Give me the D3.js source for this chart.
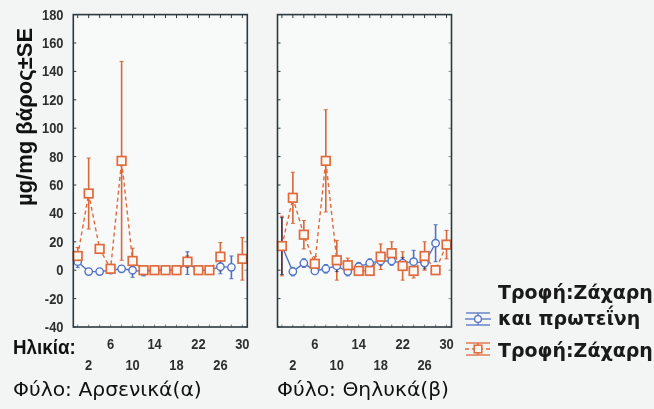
<!DOCTYPE html>
<html>
<head>
<meta charset="utf-8">
<script src="https://cdn.jsdelivr.net/npm/d3@7/dist/d3.min.js"></script>
<style>
  html, body { margin: 0; padding: 0; background: #f3f4f4; }
  svg { display: block; }
</style>
</head>
<body>
<svg id="chart" width="654" height="409"></svg>
<script>
// Age (days) categories shared by both panels
const ages = [0, 2, 4, 6, 8, 10, 12, 14, 16, 18, 20, 22, 24, 26, 28, 30];
const ageTicks = [2, 6, 10, 14, 18, 22, 26, 30];
const yTicks = [-40, -20, 0, 20, 40, 60, 80, 100, 120, 140, 160, 180];

// Males – diet: sugar and protein (mean, SE)
const maleSP = [6, -1, -1, 0, 1, 0, -1, 0, 0, 0, 5, 0, 0, 2.5, 2, null];
const maleSPse = [4, 2, 2, 2, 2, 5, 3, 2, 2, 2, 8, 2, 2, 5, 8, null];
// Males – diet: sugar
const maleS = [10, 54, 15, 1, 77, 6.5, 0, 0, 0, 0, 6, 0, 0, 9.5, null, 8];
const maleSse = [6, 25, 3, 2, 70, 9, 1, 1, 1, 1, 4, 1, 1, 10, null, 15];
// Females – diet: sugar and protein
const femaleSP = [17, -1, 5, -0.5, 1, 3, -1, 2.5, 5, 6.5, 6.5, 5, 6, 5, 19, null];
const femaleSPse = [20, 3, 3, 2, 3, 4, 3, 3, 3, 3, 3, 4, 8, 4, 13, null];
// Females – diet: sugar
const femaleS = [17, 51, 25, 4.5, 77, 7, 3.5, -0.5, -0.5, 9.5, 12, 3, -0.5, 10, 0, 18];
const femaleSse = [21, 18, 10, 5, 36, 14, 5, 2, 2, 9, 8, 10, 5, 10, 3, 10];

const panelTitles = ["Φύλο: Αρσενικά(α)", "Φύλο: Θηλυκά(β)"];
const legendLabels = [["Τροφή:Ζάχαρη", "και πρωτεΐνη"], ["Τροφή:Ζάχαρη"]];
const yTitle = "µg/mg βάρος±SE";
const xTitle = "Ηλικία:";

const BLUE = "#5373c6", ORANGE = "#df6a3c", FRAME = "#2c393e";
const sans = "'Liberation Sans', Arial, sans-serif";
const wide = "'DejaVu Sans', Verdana, sans-serif";
const NARROW = 0.86; // horizontal squeeze for the condensed axis lettering

const svg = d3.select("#chart");
const panelW = 174, yTop = 14.6, yBottom = 327;
const panelX = [73.3, 277.5];

const y = d3.scaleLinear().domain([-40, 180]).range([yBottom, yTop]);

const panels = [
  { sp: maleSP, spse: maleSPse, s: maleS, sse: maleSse },
  { sp: femaleSP, spse: femaleSPse, s: femaleS, sse: femaleSse }
];

panels.forEach((p, pi) => {
  const x0 = panelX[pi];
  const x = d3.scaleLinear().domain([-0.8, 30.9]).range([x0, x0 + panelW]);
  const g = svg.append("g");

  // plot area
  g.append("rect").attr("x", x0).attr("y", yTop).attr("width", panelW)
    .attr("height", yBottom - yTop).attr("fill", "#f8f9f9");

  // inner tick marks along the frame
  const tickAges = d3.range(0, 31, 2);
  g.selectAll(".tt").data(tickAges).join("line")
    .attr("x1", d => x(d)).attr("x2", d => x(d))
    .attr("y1", yTop).attr("y2", yTop + 3.5)
    .attr("stroke", FRAME).attr("stroke-width", 1);
  g.selectAll(".tb").data(tickAges).join("line")
    .attr("x1", d => x(d)).attr("x2", d => x(d))
    .attr("y1", yBottom).attr("y2", yBottom - 2.5)
    .attr("stroke", "#7c868a").attr("stroke-width", 1);
  g.selectAll(".tl").data(yTicks).join("line")
    .attr("x1", x0).attr("x2", x0 + 3)
    .attr("y1", d => y(d)).attr("y2", d => y(d))
    .attr("stroke", FRAME).attr("stroke-width", 1);
  g.selectAll(".tr").data(yTicks).join("line")
    .attr("x1", x0 + panelW).attr("x2", x0 + panelW - 3)
    .attr("y1", d => y(d)).attr("y2", d => y(d))
    .attr("stroke", "#8a9397").attr("stroke-width", 1);

  const series = [
    { v: p.sp, se: p.spse, color: BLUE, dash: null, marker: "circle" },
    { v: p.s, se: p.sse, color: ORANGE, dash: "4,3", marker: "square" }
  ];
  const pts = s => ages.map((a, i) => ({ a, v: s.v[i], se: s.se[i] })).filter(d => d.v !== null);

  // error bars
  series.forEach(s => {
    const eb = g.append("g").attr("stroke", s.color).attr("stroke-width", 1.6)
      .style("mix-blend-mode", "multiply");
    const d = pts(s);
    eb.selectAll("line.v").data(d).join("line")
      .attr("x1", d => x(d.a)).attr("x2", d => x(d.a))
      .attr("y1", d => y(d.v + d.se)).attr("y2", d => y(d.v - d.se));
    eb.selectAll("line.c1").data(d).join("line")
      .attr("x1", d => x(d.a) - 2).attr("x2", d => x(d.a) + 2)
      .attr("y1", d => y(d.v + d.se)).attr("y2", d => y(d.v + d.se)).attr("stroke-width", 1);
    eb.selectAll("line.c2").data(d).join("line")
      .attr("x1", d => x(d.a) - 2).attr("x2", d => x(d.a) + 2)
      .attr("y1", d => y(d.v - d.se)).attr("y2", d => y(d.v - d.se)).attr("stroke-width", 1);
  });

  // connecting lines
  series.forEach(s => {
    const line = d3.line().defined(d => d.v !== null).x(d => x(d.a)).y(d => y(d.v));
    g.append("path")
      .datum(ages.map((a, i) => ({ a, v: s.v[i] })))
      .attr("d", line).attr("fill", "none")
      .attr("stroke", s.color).attr("stroke-width", 1.4)
      .attr("stroke-dasharray", s.dash);
  });

  // markers
  series.forEach(s => {
    const d = pts(s);
    if (s.marker === "circle") {
      g.selectAll(null).data(d).join("circle")
        .attr("cx", d => x(d.a)).attr("cy", d => y(d.v)).attr("r", 3.7)
        .attr("fill", "#fbfcff").attr("stroke", s.color).attr("stroke-width", 1.4);
    } else {
      g.selectAll(null).data(d).join("rect")
        .attr("x", d => x(d.a) - 4.3).attr("y", d => y(d.v) - 4.3)
        .attr("width", 8.6).attr("height", 8.6)
        .attr("fill", "#fff7f2").attr("stroke", s.color).attr("stroke-width", 1.7);
    }
  });

  // frame
  g.append("rect").attr("x", x0).attr("y", yTop).attr("width", panelW)
    .attr("height", yBottom - yTop).attr("fill", "none")
    .attr("stroke", FRAME).attr("stroke-width", 1.6);

  // staggered x tick labels
  g.selectAll("text.xl").data(ageTicks).join("text")
    .attr("transform", (d, i) => `translate(${x(d)},${i % 2 === 0 ? 370 : 349}) scale(${NARROW},1)`)
    .attr("text-anchor", "middle")
    .style("font-family", sans).style("font-size", "15px").style("font-weight", "bold")
    .attr("fill", "#2e2e2e").text(d => d);

  // panel caption
  g.append("text").attr("x", pi === 0 ? 13 : 277).attr("y", 396)
    .style("font-family", wide).style("font-size", "20.3px").attr("fill", "#111")
    .text(panelTitles[pi]);
});

// y axis labels
svg.selectAll("text.yl").data(yTicks).join("text")
  .attr("transform", d => `translate(63.5,${y(d) + 5}) scale(${NARROW},1)`)
  .attr("text-anchor", "end")
  .style("font-family", sans).style("font-size", "15px").style("font-weight", "bold")
  .attr("fill", "#2e2e2e").text(d => d);

// y axis title
svg.append("text")
  .attr("transform", "translate(32,117) rotate(-90)")
  .attr("text-anchor", "middle")
  .style("font-family", sans)
  .style("font-size", "22px").style("font-weight", "bold").attr("fill", "#111")
  .text(yTitle);

// x axis title
svg.append("text").attr("transform", `translate(13,354) scale(${NARROW * 1.04},1)`)
  .style("font-family", sans).style("font-size", "21px").style("font-weight", "bold")
  .attr("fill", "#111").text(xTitle);

// legend
const legend = svg.append("g");
function legendSymbol(cx, cy, color, marker) {
  const s = legend.append("g").attr("stroke", color).attr("stroke-width", 1.3);
  s.append("line").attr("x1", cx - 12).attr("x2", cx + 12).attr("y1", cy - 6).attr("y2", cy - 6);
  s.append("line").attr("x1", cx - 12).attr("x2", cx + 12).attr("y1", cy + 6).attr("y2", cy + 6);
  s.append("line").attr("x1", cx - 13).attr("x2", cx + 13).attr("y1", cy).attr("y2", cy)
    .attr("stroke-dasharray", marker === "square" ? "4,3" : null);
  s.append("line").attr("x1", cx).attr("x2", cx).attr("y1", cy - 6).attr("y2", cy + 6);
  if (marker === "circle") {
    s.append("circle").attr("cx", cx).attr("cy", cy).attr("r", 3.4).attr("fill", "#fbfcff");
  } else {
    s.append("rect").attr("x", cx - 3.8).attr("y", cy - 3.8).attr("width", 7.6).attr("height", 7.6)
      .attr("fill", "#fff7f2").attr("stroke-width", 1.5);
  }
}
legendSymbol(478, 319, BLUE, "circle");
legendSymbol(478, 349, ORANGE, "square");

const legendText = (yy, t) => legend.append("text").attr("x", 498).attr("y", yy)
  .style("font-family", wide).style("font-size", "19px").style("font-weight", "bold")
  .attr("fill", "#1a1a1a").text(t);
legendText(299, legendLabels[0][0]);
legendText(325, legendLabels[0][1]);
legendText(357, legendLabels[1][0]);
</script>
</body>
</html>
